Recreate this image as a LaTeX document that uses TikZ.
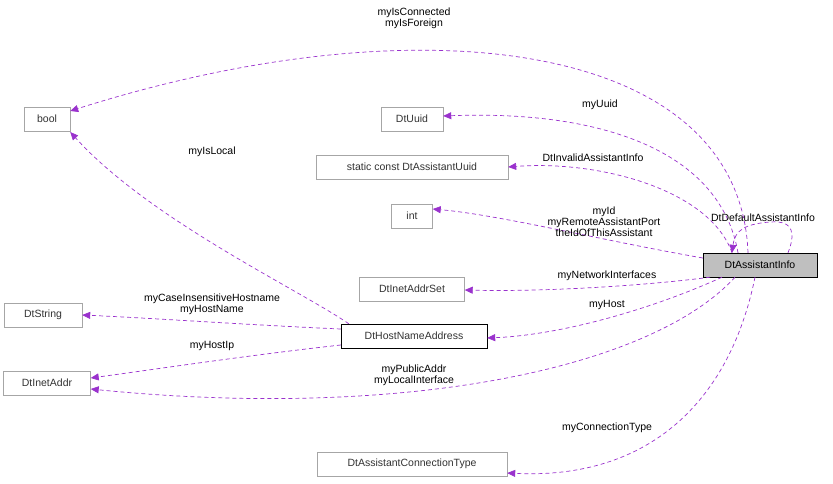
\documentclass[tikz,border=0pt]{standalone}
\usepackage{fontspec}
\setmainfont{Liberation Sans}
\usetikzlibrary{arrows.meta,calc}
\definecolor{edge}{HTML}{9A32CD}
\begin{document}
\begin{tikzpicture}[x=1pt,y=-1pt,
  box/.style={draw=black!35,fill=white,minimum height=24pt,inner sep=3pt,font=\fontsize{10.5}{12}\selectfont,text=black!80},
  rel/.style={draw=edge,dashed,dash pattern=on 4pt off 3pt,-{Triangle[fill=edge,length=8pt,width=7pt]},line width=0.7pt},
  lab/.style={font=\fontsize{10.5}{11}\selectfont,align=center,inner sep=1pt}]
\useasboundingbox (0,0) rectangle (833,483);
\node[box,minimum width=46pt] (bool) at (47,119) {bool};
\node[box,minimum width=62pt] (uuid) at (412,119) {DtUuid};
\node[box,minimum width=192pt] (scu) at (412,167) {static const DtAssistantUuid};
\node[box,minimum width=41pt] (int) at (412,216) {int};
\node[box,minimum width=105pt] (ias) at (412,289) {DtInetAddrSet};
\node[box,minimum width=78pt] (str) at (43,315) {DtString};
\node[box,draw=black,minimum width=146pt] (hna) at (414,336) {DtHostNameAddress};
\node[box,minimum width=87pt] (ia) at (47,383) {DtInetAddr};
\node[box,minimum width=190pt] (act) at (412,464) {DtAssistantConnectionType};
\node[box,draw=black,fill=black!25,minimum width=114pt,text=black] (ai) at (760,265) {DtAssistantInfo};

\draw[rel] (ai.north) ++(-12,0) .. controls (740,40) and (420,0) .. (bool.east |- 0,111);
\node[lab] at (414,18) {myIsConnected\\myIsForeign};
\draw[rel] (ai.north) ++(-22,0) .. controls (720,150) and (600,110) .. (uuid.east |- 0,116);
\node[lab] at (600,105) {myUuid};
\draw[rel] (ai.north) ++(-28,0) .. controls (710,190) and (600,160) .. (scu.east);
\node[lab] at (593,158) {DtInvalidAssistantInfo};
\draw[rel] (ai.west |- 0,258) .. controls (600,240) and (500,215) .. (int.east |- 0,209);
\node[lab] at (604,222) {myId\\myRemoteAssistantPort\\theIdOfThisAssistant};
\draw[rel] (ai.south) ++(-50,0) .. controls (650,285) and (550,292) .. (ias.east |- 0,290);
\node[lab] at (607,276) {myNetworkInterfaces};
\draw[rel] (ai.south) ++(-38,0) .. controls (650,310) and (560,335) .. (hna.east |- 0,338);
\node[lab] at (607,305) {myHost};
\draw[rel] (ai.south) ++(-25,0) .. controls (650,370) and (400,420) .. (ia.east |- 0,389);
\node[lab] at (414,375) {myPublicAddr\\myLocalInterface};
\draw[rel] (ai.south) ++(-5,0) .. controls (730,400) and (650,480) .. (act.east |- 0,473);
\node[lab] at (607,428) {myConnectionType};
\draw[rel] (ai.north) ++(28,0) .. controls (795,235) and (795,220) .. (770,222) .. controls (745,224) and (735,230) .. ($(ai.north)+(-28,0)$);
\node[lab] at (763,218) {DtDefaultAssistantInfo};
\draw[rel] (hna.north west) ++(8,0) .. controls (300,290) and (150,220) .. (bool.south east |- 0,132) ;
\node[lab] at (212,152) {myIsLocal};
\draw[rel] (hna.west |- 0,329) .. controls (250,325) and (150,318) .. (str.east);
\node[lab] at (212,304) {myCaseInsensitiveHostname\\myHostName};
\draw[rel] (hna.west |- 0,345) .. controls (250,355) and (150,370) .. (ia.east |- 0,378);
\node[lab] at (212,346) {myHostIp};
\end{tikzpicture}
\end{document}
